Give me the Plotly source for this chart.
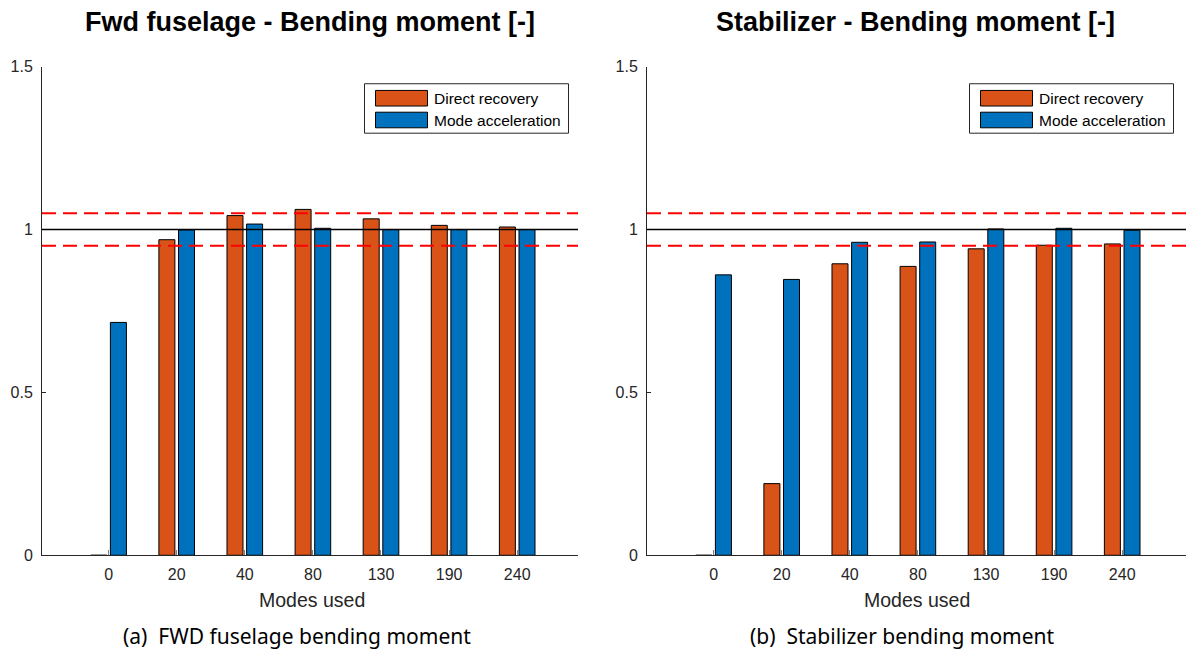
import plotly.graph_objects as go

W, H = 1186, 655

# ---------------- data ----------------
modes = ["0", "20", "40", "80", "130", "190", "240"]
fwd_direct = [0.0, 0.969, 1.043, 1.062, 1.033, 1.013, 1.008]
fwd_modeacc = [0.715, 0.999, 1.017, 1.004, 1.0, 1.0, 1.0]
stab_direct = [0.0, 0.220, 0.895, 0.887, 0.941, 0.952, 0.956]
stab_modeacc = [0.861, 0.847, 0.961, 0.962, 1.002, 1.004, 0.998]
series_names = ["Direct recovery", "Mode acceleration"]
reference_level = 1.0
tolerance_levels = [1.05, 0.95]
yticks = [0, 0.5, 1, 1.5]
ytick_labels = ["0", "0.5", "1", "1.5"]
titles = ["Fwd fuselage - Bending moment [-]", "Stabilizer - Bending moment [-]"]
captions = ["(a)\u00a0\u00a0FWD fuselage bending moment", "(b)\u00a0\u00a0Stabilizer bending moment"]
xlabel = "Modes used"

# ---------------- style ----------------
ORANGE = "#D95319"
BLUE = "#0072BD"
AX = "#262626"
FONT = "Liberation Sans, Arial, sans-serif"
CAPFONT = "Noto Sans, Open Sans, sans-serif"

S = 0.975  # vertical compensation


def px(x):
    return x / W


def py(y):
    p = H / 2 + (y - H / 2) / S
    return 1 - p / H


fig = go.Figure()

bw = 0.235
gap = 0.053
panels = [(fwd_direct, fwd_modeacc, "x", "y"), (stab_direct, stab_modeacc, "x2", "y2")]
for d, m, xa, ya in panels:
    fig.add_trace(go.Bar(x=modes, y=d, name=series_names[0], marker=dict(color=ORANGE, line=dict(color="black", width=1)),
                         width=bw, offset=-gap / 2 - bw, xaxis=xa, yaxis=ya, showlegend=False))
    fig.add_trace(go.Bar(x=modes, y=m, name=series_names[1], marker=dict(color=BLUE, line=dict(color="black", width=1)),
                         width=bw, offset=gap / 2, xaxis=xa, yaxis=ya, showlegend=False))

yd = [py(556), py(67)]
xdoms = [[42 / W, 578 / W], [647 / W, 1.0]]
xranges = [[-0.978, 6.893], [-0.978, 6.937]]

axis_common = dict(showgrid=False, zeroline=False, showline=True, linecolor=AX, linewidth=1,
                   ticks="inside", tickfont=dict(family=FONT, size=16, color=AX))
for i in range(2):
    sfx = "" if i == 0 else "2"
    fig.update_layout(**{
        "xaxis" + sfx: dict(domain=xdoms[i], range=xranges[i], type="category", anchor="y" + sfx,
                            ticklen=5, tickwidth=1, tickcolor="#808080", ticklabelstandoff=5, **axis_common),
        "yaxis" + sfx: dict(domain=yd, range=[0, 1.5], anchor="x" + sfx, tickvals=yticks, ticktext=ytick_labels,
                            ticklen=4, tickcolor=AX, ticklabelstandoff=5, **axis_common),
    })

shapes = []
annotations = []
for i in range(2):
    xr = "x domain" if i == 0 else "x2 domain"
    yr = "y" if i == 0 else "y2"
    shapes.append(dict(type="line", xref=xr, yref=yr, x0=0, x1=1, y0=reference_level, y1=reference_level,
                       line=dict(color="black", width=1.5), layer="above"))
    for lv in tolerance_levels:
        shapes.append(dict(type="line", xref=xr, yref=yr, x0=0, x1=1, y0=lv, y1=lv,
                           line=dict(color="#FF0000", width=2, dash="14px,7px"), layer="above"))

    off = 0 if i == 0 else 605
    # legend box
    shapes.append(dict(type="rect", xref="paper", yref="paper", x0=px(364.5 + off), x1=px(568.5 + off),
                       y0=py(133.5), y1=py(84), line=dict(color=AX, width=1), fillcolor="white", layer="above"))
    for j, (col, yc) in enumerate([(ORANGE, 98.5), (BLUE, 120.3)]):
        shapes.append(dict(type="rect", xref="paper", yref="paper", x0=px(375.5 + off), x1=px(427.5 + off),
                           y0=py(yc + 7.8), y1=py(yc - 7.8), line=dict(color="black", width=1), fillcolor=col,
                           layer="above"))
        annotations.append(dict(xref="paper", yref="paper", x=px(432 + off), y=py(yc), text=series_names[j],
                                showarrow=False, xanchor="left", yanchor="middle",
                                font=dict(family=FONT, size=15.5, color="black")))
    # title
    annotations.append(dict(xref="paper", yref="paper", x=px(310 + off), y=py(22.5), text="<b>" + titles[i] + "</b>",
                            showarrow=False, xanchor="center", yanchor="middle",
                            font=dict(family=FONT, size=27, color="black")))
    # x label
    annotations.append(dict(xref="paper", yref="paper", x=px(311.5 + off), y=py(601), text=xlabel,
                            showarrow=False, xanchor="center", yanchor="middle",
                            font=dict(family=FONT, size=19.5, color=AX)))
    # caption
    annotations.append(dict(xref="paper", yref="paper", x=px(297 + off), y=py(637), text=captions[i],
                            showarrow=False, xanchor="center", yanchor="middle",
                            font=dict(family=CAPFONT, size=21, color="black")))

fig.update_layout(width=W, height=H, margin=dict(l=0, r=0, t=0, b=0), paper_bgcolor="white",
                  plot_bgcolor="white", barmode="overlay", shapes=shapes, annotations=annotations,
                  showlegend=False)

fig.write_html("out.html", config={"displayModeBar": False})
